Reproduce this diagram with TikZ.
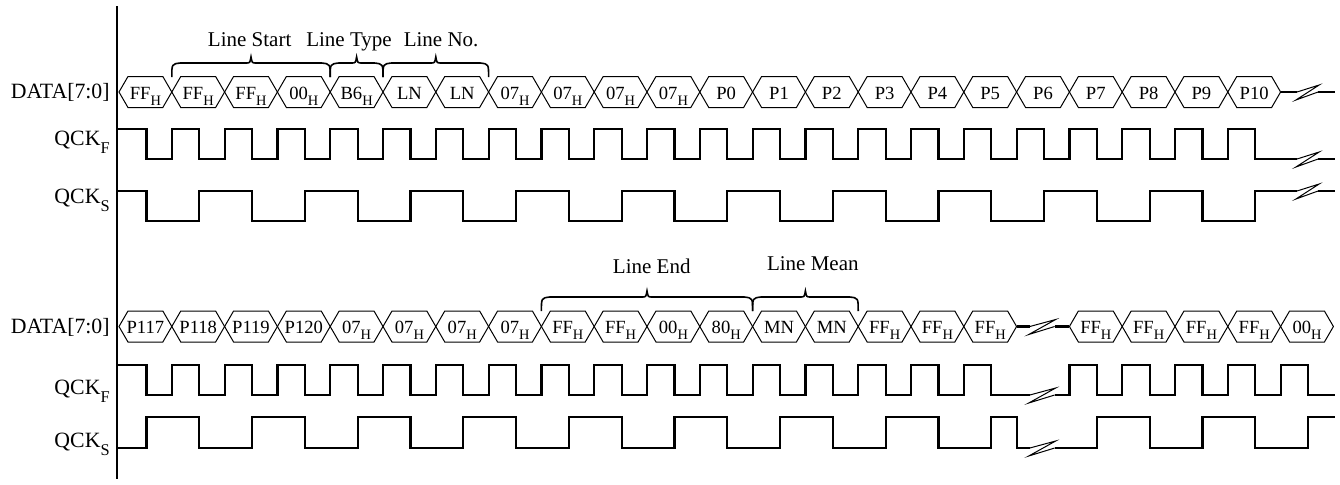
\documentclass[tikz,border=0pt]{standalone}
\usepackage{fontspec}
\setmainfont{Liberation Serif}
\usetikzlibrary{calc}
\newcommand{\hx}[1]{#1\raisebox{-0.75ex}{\fontsize{7.2}{8}\selectfont H}}
\newcommand{\qck}[1]{QCK\raisebox{-0.8ex}{\fontsize{8.2}{9}\selectfont #1}}
\newcommand{\fieldbrace}[3]{%
  \draw[brace] (#1,#3) .. controls (#1,#3-13) .. (#1+0.16,#3-14)
    -- ({(#1+#2)/2-0.1},#3-14) .. controls ({(#1+#2)/2-0.02},#3-14) .. ({(#1+#2)/2},#3-20)
    .. controls ({(#1+#2)/2+0.02},#3-14) .. ({(#1+#2)/2+0.1},#3-14)
    -- (#2-0.16,#3-14) .. controls (#2,#3-13) .. (#2,#3);}

\begin{document}
\begin{tikzpicture}[
    x=26.4pt, y=-0.5pt,
    sig/.style={line width=1.1pt},
    cell/.style={line width=0.5pt},
    brk/.style={line width=0.5pt},
    axis/.style={line width=1pt},
    brace/.style={line width=0.8pt},
    signame/.style={font=\fontsize{10.9}{12}\selectfont, anchor=base east, inner sep=0pt},
    hexlbl/.style={font=\fontsize{9.3}{11}\selectfont, anchor=base, inner sep=0pt},
    field/.style={font=\fontsize{10.5}{12}\selectfont, anchor=base, inner sep=0pt}
]
\useasboundingbox (-2.2538,0) rectangle (23.125,484);

% time axis
\draw[axis] (-0.038,6) -- (-0.038,479);

% signal names
\node[signame] (datatop) at (-0.17,98) {DATA[7:0]};
\node[signame] (qcfftop) at (-0.17,145) {\qck{F}};
\node[signame] (qcsstop) at (-0.17,203) {\qck{S}};
\node[signame] (databot) at (-0.17,333) {DATA[7:0]};
\node[signame] (qcffbot) at (-0.17,394) {\qck{F}};
\node[signame] (qcssbot) at (-0.17,447) {\qck{S}};

% upper data bus
\foreach \t [count=\k from 0] in {\hx{FF},\hx{FF},\hx{FF},\hx{00},\hx{B6},LN,LN,\hx{07},\hx{07},\hx{07},\hx{07},P0,P1,P2,P3,P4,P5,P6,P7,P8,P9,P10} {
  \draw[cell] (\k,92) -- ++(0.17,-15.5) -- ++(0.66,0) -- ++(0.17,15.5) -- ++(-0.17,15.5) -- ++(-0.66,0) -- cycle;
  \node[hexlbl] (t\k) at (\k+0.5,99) {\t};
}
\draw[sig] (22,92) -- (22.31,92);
\draw[sig] (22.71,92) -- (23.03,92);

% upper clocks
\draw[sig] (-0.038,129) \foreach \k in {0,...,20} { -- (\k+0.52,129) -- (\k+0.52,159) -- (\k+1,159) -- (\k+1,129) } -- (21.52,129) -- (21.52,159) -- (22.31,159);
\draw[sig] (22.71,159) -- (23.03,159);
\draw[sig] (-0.038,191) \foreach \k in {0,2,...,20} { -- (\k+0.52,191) -- (\k+0.52,221) -- (\k+1.52,221) -- (\k+1.52,191) } -- (22.31,191);
\draw[sig] (22.71,191) -- (23.03,191);
\foreach \y in {92,159,191}
  \draw[brk] (22.31,\y) -- (22.73,\y-7) -- (22.29,\y+8) -- (22.71,\y);

% field braces
\fieldbrace{1}{4}{77}
\fieldbrace{4}{5}{77}
\fieldbrace{5}{7}{77}
\node[field] (lstart) at (2.475,46.7) {Line Start};
\node[field] (ltype) at (4.356,46.7) {Line Type};
\node[field] (lno) at (6.10,46.7) {Line No.};

% lower data bus
\foreach \t [count=\k from 0] in {P117,P118,P119,P120,\hx{07},\hx{07},\hx{07},\hx{07},\hx{FF},\hx{FF},\hx{00},\hx{80},MN,MN,\hx{FF},\hx{FF},\hx{FF}} {
  \draw[cell] (\k,326.5) -- ++(0.17,-15.5) -- ++(0.66,0) -- ++(0.17,15.5) -- ++(-0.17,15.5) -- ++(-0.66,0) -- cycle;
  \node[hexlbl] (b\k) at (\k+0.5,333.5) {\t};
}
\foreach \t [count=\k from 18] in {\hx{FF},\hx{FF},\hx{FF},\hx{FF},\hx{00}} {
  \draw[cell] (\k,326.5) -- ++(0.17,-15.5) -- ++(0.66,0) -- ++(0.17,15.5) -- ++(-0.17,15.5) -- ++(-0.66,0) -- cycle;
  \node[hexlbl] (b\k) at (\k+0.5,333.5) {\t};
}
\draw[sig] (17,326.5) -- (17.25,326.5);
\draw[sig] (17.72,326.5) -- (18,326.5);

% lower clocks
\draw[sig] (-0.038,365) \foreach \k in {0,...,15} { -- (\k+0.52,365) -- (\k+0.52,395) -- (\k+1,395) -- (\k+1,365) } -- (16.52,365) -- (16.52,395) -- (17.25,395);
\draw[sig] (17.72,395) -- (18,395) \foreach \k in {18,...,21} { -- (\k,365) -- (\k+0.52,365) -- (\k+0.52,395) -- (\k+1,395) } -- (22,365) -- (22.52,365) -- (22.52,395) -- (23.03,395);
\draw[sig] (-0.038,448) \foreach \k in {0,2,...,14} { -- (\k+0.52,448) -- (\k+0.52,417) -- (\k+1.52,417) -- (\k+1.52,448) } -- (16.52,448) -- (16.52,417) -- (17,417) -- (17,448) -- (17.25,448);
\draw[sig] (17.72,448) \foreach \k in {18,20} { -- (\k+0.52,448) -- (\k+0.52,417) -- (\k+1.52,417) -- (\k+1.52,448) } -- (22.52,448) -- (22.52,417) -- (23.03,417);
\foreach \y in {326.5,395,448}
  \draw[brk] (17.25,\y) -- (17.74,\y-7) -- (17.23,\y+8) -- (17.72,\y);

% field braces
\fieldbrace{8}{12}{311}
\fieldbrace{12}{14}{311}
\node[field] (lend) at (10.09,273) {Line End};
\node[field] (lmean) at (13.14,270) {Line Mean};

\end{tikzpicture}
\end{document}
